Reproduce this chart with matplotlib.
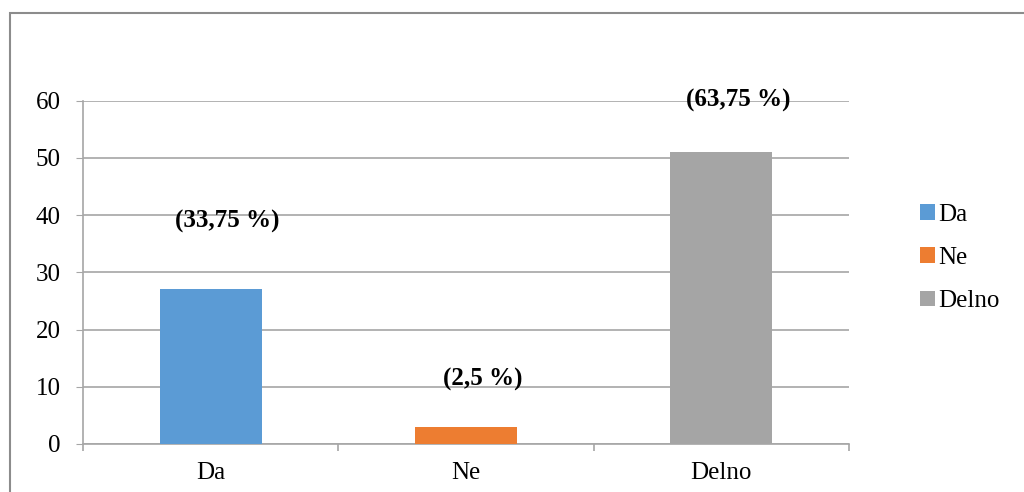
import matplotlib.pyplot as plt
from matplotlib.patches import Rectangle, Patch

categories = ['Da', 'Ne', 'Delno']
counts = [27, 3, 51]
percent_labels = ['(33,75 %)', '(2,5 %)', '(63,75 %)']
colors = ['#5B9BD5', '#ED7D31', '#A5A5A5']
y_ticks = [0, 10, 20, 30, 40, 50, 60]

# label offsets above each bar top, in points
label_offsets = [(12, 49), (12, 34), (12, 37)]

plt.rcParams['font.family'] = ['Liberation Serif', 'DejaVu Serif']
GRID = '#A6A6A6'
FS = 18

fig = plt.figure(figsize=(10.24, 4.92), dpi=100)
ax = fig.add_axes([83 / 1024, 48 / 492, (849 - 83) / 1024, (444 - 100.5) / 492])

x = range(len(categories))
ax.bar(x, counts, width=0.4, color=colors, zorder=3)

for i, (val, txt) in enumerate(zip(counts, percent_labels)):
    ax.annotate(txt, xy=(i, val), xytext=label_offsets[i], textcoords='offset points',
                ha='center', va='center', fontsize=FS, fontweight='bold', zorder=4)

ax.set_xlim(-0.5, len(categories) - 0.5)
ax.set_ylim(0, 60)
ax.set_yticks(y_ticks)
ax.tick_params(axis='y', labelsize=FS, length=5, color=GRID, pad=11)
ax.yaxis.grid(True, color=GRID, linewidth=1.2, zorder=0)

ax.set_xticks(list(x))
ax.set_xticklabels(categories, fontsize=FS)
ax.tick_params(axis='x', which='major', length=0, pad=13)
ax.set_xticks([-0.5, 0.5, 1.5, 2.5], minor=True)
ax.tick_params(axis='x', which='minor', length=5, color=GRID, width=1.2)

for side in ['top', 'right']:
    ax.spines[side].set_visible(False)
for side in ['left', 'bottom']:
    ax.spines[side].set_color(GRID)
    ax.spines[side].set_linewidth(1.2)

handles = [Patch(facecolor=c, edgecolor='none') for c in colors]
fig.legend(handles, categories, loc='center left', bbox_to_anchor=(0.876, 0.4756),
           frameon=False, fontsize=FS, handlelength=0.6, handleheight=0.6,
           handletextpad=0.15, labelspacing=0.85)

# outer chart frame (runs off the right and bottom edges)
fig.patches.append(Rectangle((9.5 / 1024, -0.05), 1.1, 1 - 12.5 / 492 + 0.05,
                             transform=fig.transFigure, fill=False,
                             edgecolor='#8C8C8C', linewidth=1.5))

fig.savefig('out.png', dpi=100)
